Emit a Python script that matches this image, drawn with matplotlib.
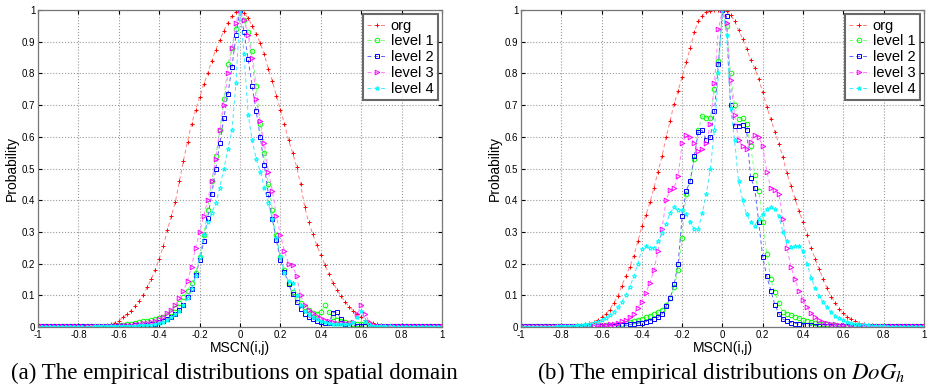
import numpy as np
import matplotlib
matplotlib.use('Agg')
import matplotlib.pyplot as plt

plt.rcParams['font.family'] = ['Liberation Sans', 'DejaVu Sans']
plt.rcParams['mathtext.fontset'] = 'stix'

# histogram bin centres, -1 .. 1 step 0.02
x = np.round(np.linspace(-1, 1, 101), 2)

# (a) spatial domain
org_a = [0.001, 0.001, 0.001, 0.001, 0.001, 0.001, 0.001, 0.001, 0.001, 0.001,
         0.001, 0.001, 0.002, 0.002, 0.002, 0.003, 0.004, 0.006, 0.009, 0.014,
         0.02, 0.03, 0.04, 0.052, 0.066, 0.082, 0.10, 0.125, 0.15, 0.18,
         0.215, 0.255, 0.305, 0.35, 0.395, 0.46, 0.525, 0.585, 0.64, 0.685,
         0.725, 0.765, 0.80, 0.84, 0.875, 0.905, 0.935, 0.96, 0.98, 0.995,
         1.0, 0.99, 0.975, 0.95, 0.925, 0.895, 0.86, 0.815, 0.775, 0.73,
         0.685, 0.64, 0.59, 0.55, 0.505, 0.45, 0.38, 0.33, 0.293, 0.258,
         0.228, 0.197, 0.168, 0.14, 0.118, 0.098, 0.08, 0.064, 0.052, 0.04,
         0.031, 0.023, 0.017, 0.012, 0.009, 0.006, 0.004, 0.003, 0.002, 0.002,
         0.001, 0.001, 0.001, 0.001, 0.001, 0.001, 0.001, 0.001, 0.001, 0.001,
         0.001]
lv1_a = [0.002, 0.002, 0.002, 0.002, 0.002, 0.002, 0.002, 0.002, 0.002, 0.002,
         0.002, 0.002, 0.002, 0.002, 0.002, 0.002, 0.003, 0.003, 0.003, 0.004,
         0.006, 0.007, 0.009, 0.011, 0.013, 0.015, 0.018, 0.02, 0.022, 0.025,
         0.028, 0.032, 0.038, 0.048, 0.06, 0.075, 0.095, 0.115, 0.14, 0.17,
         0.22, 0.29, 0.37, 0.46, 0.54, 0.62, 0.72, 0.83, 0.88, 0.94,
         1.0, 0.97, 0.93, 0.87, 0.76, 0.64, 0.55, 0.45, 0.37, 0.29,
         0.22, 0.18, 0.14, 0.11, 0.09, 0.075, 0.062, 0.055, 0.045, 0.042,
         0.048, 0.068, 0.047, 0.03, 0.022, 0.02, 0.016, 0.012, 0.01, 0.01,
         0.008, 0.006, 0.005, 0.004, 0.003, 0.003, 0.002, 0.002, 0.002, 0.002,
         0.002, 0.002, 0.002, 0.002, 0.002, 0.002, 0.002, 0.002, 0.002, 0.002,
         0.002]
lv2_a = [0.002, 0.002, 0.002, 0.002, 0.002, 0.002, 0.002, 0.002, 0.002, 0.002,
         0.002, 0.002, 0.002, 0.002, 0.002, 0.002, 0.002, 0.002, 0.003, 0.003,
         0.003, 0.003, 0.004, 0.004, 0.005, 0.005, 0.006, 0.007, 0.009, 0.011,
         0.015, 0.02, 0.026, 0.033, 0.042, 0.055, 0.07, 0.095, 0.12, 0.163,
         0.21, 0.27, 0.345, 0.42, 0.50, 0.58, 0.66, 0.735, 0.82, 0.92,
         1.0, 0.93, 0.845, 0.76, 0.68, 0.60, 0.51, 0.42, 0.34, 0.275,
         0.21, 0.175, 0.135, 0.105, 0.08, 0.058, 0.042, 0.032, 0.025, 0.02,
         0.016, 0.013, 0.012, 0.045, 0.046, 0.025, 0.01, 0.006, 0.005, 0.004,
         0.004, 0.003, 0.003, 0.003, 0.002, 0.002, 0.002, 0.002, 0.002, 0.002,
         0.002, 0.002, 0.002, 0.002, 0.002, 0.002, 0.002, 0.002, 0.002, 0.002,
         0.002]
lv3_a = [0.002, 0.002, 0.002, 0.002, 0.002, 0.002, 0.002, 0.002, 0.002, 0.002,
         0.002, 0.002, 0.002, 0.002, 0.002, 0.003, 0.003, 0.003, 0.004, 0.004,
         0.005, 0.005, 0.006, 0.007, 0.008, 0.010, 0.012, 0.014, 0.016, 0.02,
         0.025, 0.033, 0.043, 0.055, 0.07, 0.09, 0.115, 0.145, 0.19, 0.25,
         0.30, 0.35, 0.40, 0.46, 0.53, 0.62, 0.70, 0.80, 0.88, 0.96,
         1.0, 0.97, 0.92, 0.85, 0.72, 0.65, 0.58, 0.49, 0.43, 0.35,
         0.29, 0.24, 0.20, 0.195, 0.16, 0.10, 0.07, 0.055, 0.045, 0.035,
         0.028, 0.022, 0.018, 0.015, 0.013, 0.012, 0.012, 0.013, 0.015, 0.04,
         0.068, 0.04, 0.015, 0.006, 0.004, 0.003, 0.003, 0.002, 0.002, 0.002,
         0.002, 0.002, 0.002, 0.002, 0.002, 0.002, 0.002, 0.002, 0.002, 0.002,
         0.002]
lv4_a = [0.001, 0.001, 0.001, 0.001, 0.001, 0.001, 0.001, 0.001, 0.001, 0.001,
         0.001, 0.001, 0.001, 0.001, 0.002, 0.002, 0.002, 0.002, 0.002, 0.003,
         0.003, 0.003, 0.003, 0.004, 0.004, 0.005, 0.005, 0.006, 0.007, 0.009,
         0.012, 0.017, 0.022, 0.03, 0.04, 0.05, 0.07, 0.09, 0.12, 0.16,
         0.22, 0.29, 0.33, 0.36, 0.39, 0.44, 0.50, 0.56, 0.62, 0.77,
         1.0, 0.86, 0.67, 0.59, 0.53, 0.49, 0.44, 0.39, 0.34, 0.28,
         0.22, 0.17, 0.145, 0.14, 0.10, 0.07, 0.05, 0.04, 0.03, 0.025,
         0.02, 0.016, 0.013, 0.011, 0.01, 0.009, 0.009, 0.01, 0.015, 0.03,
         0.05, 0.02, 0.008, 0.004, 0.003, 0.002, 0.002, 0.002, 0.001, 0.001,
         0.001, 0.001, 0.001, 0.001, 0.001, 0.001, 0.001, 0.001, 0.001, 0.001,
         0.001]

# (b) DoG_h
org_b = [0.001, 0.001, 0.001, 0.001, 0.001, 0.001, 0.001, 0.001, 0.001, 0.001,
         0.001, 0.002, 0.002, 0.003, 0.004, 0.006, 0.008, 0.012, 0.016, 0.022,
         0.03, 0.04, 0.055, 0.075, 0.097, 0.13, 0.16, 0.19, 0.225, 0.27,
         0.318, 0.353, 0.393, 0.44, 0.49, 0.54, 0.598, 0.65, 0.705, 0.745,
         0.79, 0.835, 0.88, 0.93, 0.965, 0.982, 0.993, 0.998, 1.0, 1.0,
         0.998, 0.997, 0.985, 0.965, 0.936, 0.91, 0.877, 0.843, 0.816, 0.782,
         0.74, 0.695, 0.655, 0.616, 0.578, 0.535, 0.485, 0.445, 0.405, 0.365,
         0.33, 0.29, 0.25, 0.215, 0.183, 0.15, 0.122, 0.096, 0.076, 0.057,
         0.043, 0.032, 0.024, 0.018, 0.013, 0.01, 0.007, 0.005, 0.004, 0.003,
         0.002, 0.002, 0.001, 0.001, 0.001, 0.001, 0.001, 0.001, 0.001, 0.001,
         0.001]
lv1_b = [0.002, 0.002, 0.002, 0.002, 0.002, 0.002, 0.002, 0.002, 0.002, 0.002,
         0.002, 0.002, 0.002, 0.002, 0.002, 0.002, 0.003, 0.003, 0.003, 0.004,
         0.004, 0.005, 0.006, 0.007, 0.008, 0.01, 0.012, 0.015, 0.018, 0.022,
         0.026, 0.031, 0.036, 0.041, 0.046, 0.055, 0.07, 0.09, 0.125, 0.18,
         0.28, 0.42, 0.46, 0.53, 0.62, 0.665, 0.66, 0.66, 0.75, 0.84,
         1.0, 0.95, 0.80, 0.70, 0.655, 0.658, 0.64, 0.57, 0.48, 0.43,
         0.33, 0.23, 0.15, 0.11, 0.075, 0.047, 0.042, 0.038, 0.033, 0.028,
         0.023, 0.019, 0.016, 0.013, 0.011, 0.009, 0.008, 0.006, 0.005, 0.004,
         0.004, 0.003, 0.003, 0.003, 0.002, 0.002, 0.002, 0.002, 0.002, 0.002,
         0.002, 0.002, 0.002, 0.002, 0.002, 0.002, 0.002, 0.002, 0.002, 0.002,
         0.002]
lv2_b = [0.002, 0.002, 0.002, 0.002, 0.002, 0.002, 0.002, 0.002, 0.002, 0.002,
         0.002, 0.002, 0.002, 0.002, 0.002, 0.002, 0.002, 0.002, 0.003, 0.003,
         0.003, 0.003, 0.004, 0.004, 0.005, 0.005, 0.006, 0.008, 0.01, 0.012,
         0.014, 0.017, 0.02, 0.024, 0.03, 0.04, 0.065, 0.09, 0.135, 0.2,
         0.35, 0.43, 0.46, 0.54, 0.615, 0.62, 0.59, 0.60, 0.68, 0.83,
         1.0, 0.98, 0.70, 0.634, 0.635, 0.637, 0.62, 0.47, 0.44, 0.33,
         0.22, 0.16, 0.115, 0.07, 0.042, 0.025, 0.018, 0.014, 0.011, 0.009,
         0.007, 0.006, 0.005, 0.004, 0.004, 0.003, 0.003, 0.003, 0.002, 0.002,
         0.002, 0.002, 0.002, 0.002, 0.002, 0.002, 0.002, 0.002, 0.002, 0.002,
         0.002, 0.002, 0.002, 0.002, 0.002, 0.002, 0.002, 0.002, 0.002, 0.002,
         0.002]
lv3_b = [0.002, 0.002, 0.002, 0.002, 0.002, 0.002, 0.002, 0.002, 0.002, 0.002,
         0.002, 0.002, 0.002, 0.002, 0.003, 0.003, 0.003, 0.004, 0.004, 0.005,
         0.006, 0.007, 0.009, 0.011, 0.014, 0.018, 0.023, 0.03, 0.04, 0.06,
         0.08, 0.108, 0.14, 0.18, 0.24, 0.31, 0.40, 0.432, 0.44, 0.475,
         0.58, 0.605, 0.60, 0.58, 0.555, 0.56, 0.58, 0.64, 0.77, 0.94,
         1.0, 0.96, 0.78, 0.67, 0.59, 0.57, 0.56, 0.585, 0.605, 0.60,
         0.57, 0.49, 0.44, 0.432, 0.42, 0.34, 0.25, 0.19, 0.15, 0.115,
         0.085, 0.063, 0.043, 0.03, 0.022, 0.017, 0.013, 0.01, 0.008, 0.006,
         0.005, 0.004, 0.004, 0.003, 0.003, 0.003, 0.002, 0.002, 0.002, 0.002,
         0.002, 0.002, 0.002, 0.002, 0.002, 0.002, 0.002, 0.002, 0.002, 0.002,
         0.002]
lv4_b = [0.001, 0.001, 0.001, 0.001, 0.001, 0.001, 0.001, 0.001, 0.001, 0.002,
         0.002, 0.002, 0.003, 0.004, 0.005, 0.006, 0.008, 0.01, 0.013, 0.017,
         0.022, 0.028, 0.037, 0.048, 0.062, 0.08, 0.10, 0.127, 0.16, 0.20,
         0.245, 0.255, 0.248, 0.25, 0.27, 0.295, 0.325, 0.36, 0.377, 0.37,
         0.368, 0.355, 0.33, 0.31, 0.31, 0.36, 0.42, 0.50, 0.62, 0.80,
         1.0, 0.92, 0.69, 0.59, 0.46, 0.40, 0.355, 0.33, 0.32, 0.342,
         0.358, 0.373, 0.377, 0.372, 0.35, 0.30, 0.27, 0.253, 0.254, 0.255,
         0.24, 0.20, 0.155, 0.122, 0.097, 0.078, 0.062, 0.046, 0.036, 0.028,
         0.022, 0.017, 0.013, 0.01, 0.008, 0.006, 0.005, 0.004, 0.003, 0.002,
         0.002, 0.001, 0.001, 0.001, 0.001, 0.001, 0.001, 0.001, 0.001, 0.001,
         0.001]

labels = ['org', 'level 1', 'level 2', 'level 3', 'level 4']
xticks = [-1, -0.8, -0.6, -0.4, -0.2, 0, 0.2, 0.4, 0.6, 0.8, 1]
xtick_labels = ['-1', '-0.8', '-0.6', '-0.4', '-0.2', '0', '0.2', '0.4', '0.6', '0.8', '1']
yticks = [0, 0.1, 0.2, 0.3, 0.4, 0.5, 0.6, 0.7, 0.8, 0.9, 1]
ytick_labels = ['0', '0.1', '0.2', '0.3', '0.4', '0.5', '0.6', '0.7', '0.8', '0.9', '1']
captions = ['(a) The empirical distributions on spatial domain',
            '(b) The empirical distributions on $DoG_h$']

# marker colour, lighter dashed-line colour, marker
styles = [('#ff0000', '#ff8080', '+'),
          ('#00ff00', '#80ff80', 'o'),
          ('#0000ff', '#6060ff', 's'),
          ('#ff00ff', '#ff80ff', '>'),
          ('#00ffff', '#40e8ff', '*')]

fig = plt.figure(figsize=(9.3, 3.92), dpi=100)
ax_a = fig.add_axes([0.0409, 0.1658, 0.4344, 0.8087])
ax_b = fig.add_axes([0.5602, 0.1658, 0.4333, 0.8087])

panels = [(ax_a, [org_a, lv1_a, lv2_a, lv3_a, lv4_a]),
          (ax_b, [org_b, lv1_b, lv2_b, lv3_b, lv4_b])]

for ax, series in panels:
    for y, lab, (mc, lc, mk) in zip(series, labels, styles):
        ax.plot(x, y, linestyle='--', color=lc, linewidth=0.7, dashes=(4, 3),
                marker=mk, markersize=3.3, markeredgewidth=0.7,
                markeredgecolor=mc, markerfacecolor='none', label=lab)
    ax.set_xlim(-1, 1)
    ax.set_ylim(0, 1)
    ax.set_xticks(xticks)
    ax.set_xticklabels(xtick_labels)
    ax.set_yticks(yticks)
    ax.set_yticklabels(ytick_labels)
    ax.tick_params(direction='in', length=3, width=0.8, labelsize=7, pad=2,
                   top=True, right=True)
    ax.grid(True, linestyle=':', color='#999999', linewidth=0.8)
    for s in ax.spines.values():
        s.set_linewidth(0.9)
        s.set_color('#777777')
    ax.set_xlabel('MSCN(i,j)', fontsize=10, labelpad=1)
    ax.set_ylabel('Probability', fontsize=10, labelpad=2)
    leg = ax.legend(loc='upper right', fontsize=10.5, handlelength=1.3,
                    handletextpad=0.3, labelspacing=0.12, borderpad=0.3,
                    borderaxespad=0.3, fancybox=False, markerscale=1.0,
                    numpoints=1)
    leg.get_frame().set_edgecolor('#444444')
    leg.get_frame().set_linewidth(1.5)

fig.text(0.252, 0.048, captions[0], ha='center', va='center', fontsize=16.5,
         family='Liberation Serif')
fig.text(0.776, 0.048, captions[1], ha='center', va='center', fontsize=16.5,
         family='Liberation Serif')

fig.savefig('out.png', dpi=100)
